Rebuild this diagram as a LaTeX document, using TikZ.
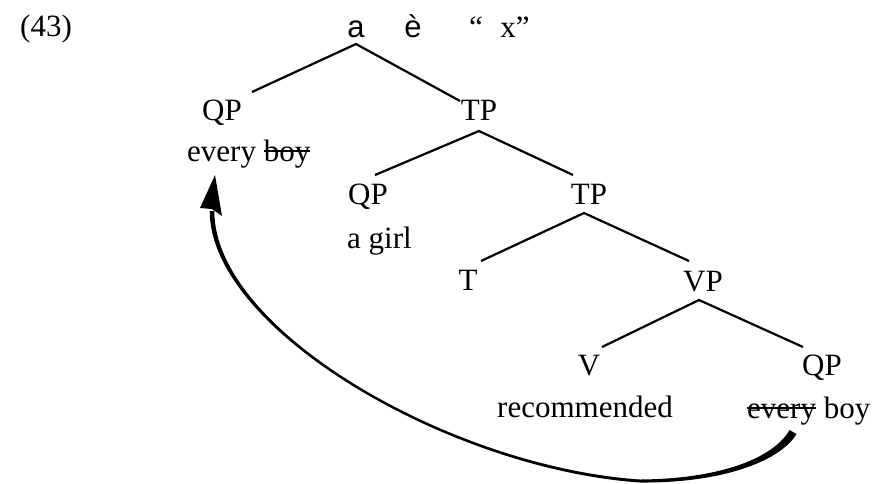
\documentclass[tikz,border=0pt]{standalone}
\usepackage{fontspec}
\setmainfont{Liberation Serif}
\newfontfamily\sansf{Liberation Sans}
\newcommand\mystrike[1]{\setbox0\hbox{#1}\rlap{\rule[9.5pt]{\wd0}{1.8pt}}\box0\relax}
\begin{document}
\begin{tikzpicture}[x=1pt,y=-1pt,
  every node/.style={font=\fontsize{31}{37}\selectfont, inner sep=0pt},
  lab/.style={anchor=base},
  txt/.style={anchor=base west},
  edge/.style={line width=2.2pt, line cap=butt}]
\useasboundingbox (0,0) rectangle (874,483);

% example number and top formula
\node[txt] (num) at (20,36) {(43)};
\node[lab] (fa) at (356,37) {\sansf a};
\node[lab] (fe) at (413,37) {\sansf è};
\node[lab] (fq) at (476,37) {“};
\node[lab] (fx) at (515,37) {x”};

% tree labels
\node[lab] (qp1) at (222,120) {QP};
\node[lab] (tp1) at (479,120) {TP};
\node[txt] (w1) at (187,161) {every \mystrike{boy}};
\node[lab] (qp2) at (368,204) {QP};
\node[lab] (tp2) at (589,204) {TP};
\node[txt] (w2) at (347,248) {a girl};
\node[lab] (t) at (468,290) {T};
\node[lab] (vp) at (703,291) {VP};
\node[lab] (v) at (589,375) {V};
\node[lab] (qp3) at (822,375) {QP};
\node[txt] (w3) at (497,417) {recommended};
\node[txt] (w4) at (747,418) {\mystrike{every} boy};

% branch points
\coordinate (r0) at (356,44);
\coordinate (r1) at (252,92);
\coordinate (r2) at (460,101);
\coordinate (t0) at (479,131);
\coordinate (t1) at (375,175);
\coordinate (t2) at (573,175);
\coordinate (s0) at (584,213);
\coordinate (s1) at (481,261);
\coordinate (s2) at (689,261);
\coordinate (v0) at (699,300);
\coordinate (v1) at (602,347);
\coordinate (v2) at (803,347);

\draw[edge] (r1) -- (r0) -- (r2);
\draw[edge] (t1) -- (t0) -- (t2);
\draw[edge] (s1) -- (s0) -- (s2);
\draw[edge] (v1) -- (v0) -- (v2);

% movement arrow (tapered body + head)
\coordinate (arrS) at (793,432);
\coordinate (arrT) at (215,175);
\fill (796.5,434) .. controls (781,460) and (725,483.2) .. (640,482.5)
      .. controls (449.9,469.5) and (209.8,330) .. (209.7,211)
      -- (214.3,211)
      .. controls (214.2,330) and (450.1,466.5) .. (640,479.5)
      .. controls (725,478.8) and (775,456) .. (789.5,430) -- cycle;
\fill (arrT) -- (222,216) -- (212,209) -- (200,208) -- cycle;
\end{tikzpicture}
\end{document}
